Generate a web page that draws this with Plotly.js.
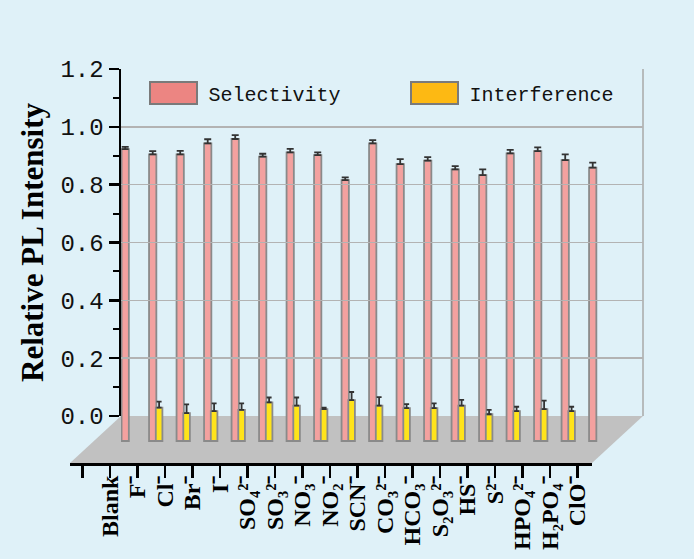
<!DOCTYPE html>
<html>
<head>
<meta charset="utf-8">
<script src="https://cdn.plot.ly/plotly-3.0.1.min.js"></script>
<style>
  html, body { margin: 0; padding: 0; background: #dff1f8; }
  #chart { width: 694px; height: 559px; }
</style>
</head>
<body>
<div id="chart"></div>
<script>
// Anions tested (tick labels)
const ions = [
  'Blank', 'F⁻', 'Cl⁻', 'Br⁻', 'I⁻', 'SO₄²⁻', 'SO₃²⁻', 'NO₃⁻', 'NO₂⁻', 'SCN⁻',
  'CO₃²⁻', 'HCO₃⁻', 'S₂O₃²⁻', 'HS⁻', 'S²⁻', 'HPO₄²⁻', 'H₂PO₄⁻', 'ClO⁻'
];

// Relative PL intensity with each anion alone
const selectivity = [0.923, 0.905, 0.905, 0.943, 0.958, 0.897, 0.912, 0.902, 0.816,
                     0.943, 0.871, 0.883, 0.853, 0.833, 0.908, 0.916, 0.885, 0.859];
const selectivityErr = [0.008, 0.011, 0.012, 0.014, 0.013, 0.010, 0.012, 0.010, 0.009,
                        0.011, 0.017, 0.012, 0.011, 0.020, 0.012, 0.013, 0.020, 0.017];

// Relative PL intensity with the anion plus the quencher
const interference = [null, 0.029, 0.010, 0.017, 0.021, 0.047, 0.036, 0.024, 0.055,
                      0.036, 0.027, 0.027, 0.036, 0.006, 0.017, 0.024, 0.017, null];
const interferenceErr = [null, 0.021, 0.030, 0.027, 0.023, 0.017, 0.028, 0.005, 0.028,
                         0.029, 0.014, 0.017, 0.020, 0.015, 0.015, 0.029, 0.015, null];

const seriesNames = ['Selectivity', 'Interference'];

// ---- pseudo-3D geometry (plot area = 573 x 394 px) ----
const PW = 573, PH = 394;
const WALL_X0 = 51 / PW;          // back wall starts right of the floor's front-left corner
const FRONT_X1 = 522 / PW;        // front edge of the floor
const WALL_Y0 = 47 / PH;          // floor depth (wall bottom above front edge)
const Y_MAX = 1.2;
const Y_FRONT = -0.1625;          // value level of the floor's front edge
const BAR_BASE = -0.0865;         // bars stand in the middle of the floor

const barLen = (arr) => arr.map(v => (v == null ? null : v - BAR_BASE));
const upOnly = (arr) => arr.map(() => 0);

const traces = [
  {
    type: 'bar', name: seriesNames[0], x: ions, y: barLen(selectivity), base: BAR_BASE,
    offset: -0.245, width: 0.265,
    marker: { color: '#f3a19f', line: { color: '#8a8a8a', width: 1.8 } },
    error_y: { type: 'data', array: selectivityErr, arrayminus: upOnly(selectivityErr),
               symmetric: false, color: '#333', thickness: 1.8, width: 3.5 },
    xaxis: 'x', yaxis: 'y', hoverinfo: 'skip'
  },
  {
    type: 'bar', name: seriesNames[1], x: ions, y: barLen(interference), base: BAR_BASE,
    offset: 0.0, width: 0.24,
    marker: { color: '#ffe31a', line: { color: '#8a8a8a', width: 1.8 } },
    error_y: { type: 'data', array: interferenceErr, arrayminus: upOnly(interferenceErr),
               symmetric: false, color: '#333', thickness: 1.8, width: 2.5 },
    xaxis: 'x', yaxis: 'y', hoverinfo: 'skip'
  },
  // empty traces that register the label axis (floor front) and the wall value axis
  { type: 'scatter', x: [], y: [], xaxis: 'x2', yaxis: 'y', showlegend: false, hoverinfo: 'skip' },
  { type: 'scatter', x: [], y: [], xaxis: 'x', yaxis: 'y2', showlegend: false, hoverinfo: 'skip' }
];

const labelTickVals = [-1].concat(ions.map((_, i) => i));
const labelTickText = [' '].concat(ions);

const layout = {
  width: 694, height: 559,
  margin: { l: 70, r: 51, t: 69, b: 96, pad: 0 },
  paper_bgcolor: '#dff1f8',
  plot_bgcolor: 'rgba(0,0,0,0)',
  barmode: 'overlay',
  showlegend: true,
  legend: {
    orientation: 'h', x: 0.1195, y: 0.939, xanchor: 'left', yanchor: 'middle',
    bgcolor: 'rgba(0,0,0,0)', borderwidth: 0,
    itemwidth: 60, entrywidth: 186, traceorder: 'normal',
    font: { family: 'Liberation Mono, DejaVu Sans Mono, monospace', size: 20, color: '#111' }
  },
  // category axis carrying the bars (back plane)
  xaxis: {
    type: 'category', domain: [WALL_X0, 1], range: [-0.2655, 18.716],
    visible: false, fixedrange: true
  },
  // bar value axis, extended down to the floor's front edge
  yaxis: {
    domain: [0, 1], range: [Y_FRONT, Y_MAX], visible: false, fixedrange: true
  },
  // front edge of the floor with the anion labels
  xaxis2: {
    type: 'linear', domain: [0, FRONT_X1], range: [-1.4545, 17.527], anchor: 'y',
    tickmode: 'array', tickvals: labelTickVals, ticktext: labelTickText,
    tickangle: -90, ticks: 'outside', ticklen: 12, tickwidth: 2.5, tickcolor: '#000',
    ticklabelstandoff: -12,
    showline: true, linecolor: '#000', linewidth: 3,
    showgrid: false, zeroline: false, fixedrange: true,
    tickfont: { family: 'Liberation Serif, Times New Roman, serif', size: 24, weight: 'bold', color: '#000' }
  },
  // visible value axis on the back wall
  yaxis2: {
    type: 'linear', domain: [WALL_Y0, 1], range: [0, Y_MAX], anchor: 'x',
    tickmode: 'linear', tick0: 0, dtick: 0.2, tickformat: '.1f',
    ticks: 'outside', ticklen: 10, tickwidth: 2.5, tickcolor: '#000',
    minor: { dtick: 0.1, ticks: 'outside', ticklen: 6, tickwidth: 2, tickcolor: '#000', showgrid: false },
    showline: true, linecolor: '#000', linewidth: 2.5,
    showgrid: true, gridcolor: '#b3b3b3', gridwidth: 1.5, zeroline: false, fixedrange: true,
    tickfont: { family: 'Liberation Mono, DejaVu Sans Mono, monospace', size: 24, color: '#111' },
    title: { text: 'Relative PL Intensity', standoff: 8,
             font: { family: 'Liberation Serif, Times New Roman, serif', size: 31, weight: 'bold', color: '#000' } }
  },
  shapes: [
    // floor
    { type: 'path', xref: 'paper', yref: 'paper', layer: 'below',
      path: `M ${WALL_X0} ${WALL_Y0} L 1 ${WALL_Y0} L ${FRONT_X1} 0 L 0 0 Z`,
      fillcolor: '#c1c1c1', line: { width: 0 } },
    // right edge of the back wall
    { type: 'line', xref: 'paper', yref: 'paper', layer: 'below',
      x0: 1, x1: 1, y0: WALL_Y0, y1: 1, line: { color: '#a9a9a9', width: 1.5 } }
  ]
};

Plotly.newPlot('chart', traces, layout, { staticPlot: true, displayModeBar: false }).then(gd => {
  // larger legend swatches, in the legend's own colours
  const swatchFill = ['#ec8582', '#fdb913'];
  gd.querySelectorAll('.legend .traces').forEach((g, i) => {
    const p = g.querySelector('.legendpoints path');
    if (p) {
      p.setAttribute('d', 'M23.5,11H-23.5V-11H23.5Z');
      p.style.fill = swatchFill[i];
      p.style.stroke = '#7a7a7a';
      p.style.strokeWidth = '2px';
    }
  });
});
</script>
</body>
</html>
